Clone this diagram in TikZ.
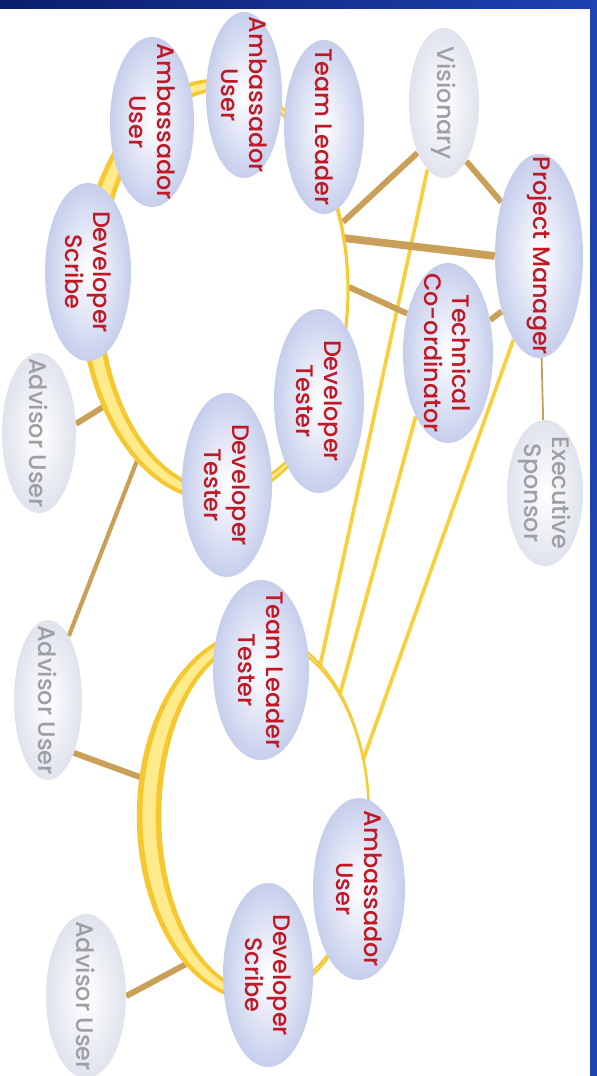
\documentclass[tikz,border=0pt]{standalone}
\usepackage{fontspec}
\newfontfamily\rolefont{Poppins Medium}
\usetikzlibrary{shapes.geometric,backgrounds}
\definecolor{rolered}{RGB}{192,24,36}
\definecolor{auxtext}{RGB}{158,158,163}
\definecolor{roleblue}{RGB}{198,206,236}
\definecolor{auxgrey}{RGB}{224,227,237}
\definecolor{linkbrown}{RGB}{202,160,88}
\definecolor{feedyellow}{RGB}{248,208,60}
\definecolor{ringgold}{RGB}{246,200,48}
\definecolor{ringpale}{RGB}{255,234,140}
\definecolor{navydark}{RGB}{10,30,108}
\definecolor{navylight}{RGB}{30,66,178}
\begin{document}
\begin{tikzpicture}[x=0.025cm,y=-0.025cm,
    declare function={w1(\t)=3+9.5*(1-cos(\t));
      w2(\t)=2.5+22*((1-cos(\t))/2)*sqrt(abs((1-cos(\t))/2));
      p1(\t)=max(0,0.32*(w1(\t)-4));
      p2(\t)=max(0,0.32*(w2(\t)-4));},
    role/.style={ellipse,inner sep=0pt,shading=radial,inner color=white,outer color=roleblue},
    aux/.style={ellipse,inner sep=0pt,shading=radial,inner color=white,outer color=auxgrey},
    rtext/.style={rotate=-90,align=center,text=rolered,font=\rolefont\fontsize{17}{20}\selectfont},
    gtext/.style={rtext,text=auxtext},
    link/.style={linkbrown,line width=4.2pt},
    feed/.style={feedyellow,line width=2.6pt}]
  \useasboundingbox (0,0) rectangle (597,1076);
  \node[aux,minimum width=1.75cm,minimum height=3.75cm,label={[gtext]center:Visionary}] (vis) at (444,103) {};
  \node[role,minimum width=2cm,minimum height=4.35cm,label={[rtext]center:Team Leader}] (tl) at (324,127) {};
  \node[role,minimum width=1.9cm,minimum height=4.15cm,label={[rtext]center:{Ambassador\\User}}] (amb1) at (244,95) {};
  \node[role,minimum width=2.1cm,minimum height=4.25cm,label={[rtext]center:{Ambassador\\User}}] (amb2) at (152,122) {};
  \node[role,minimum width=2.15cm,minimum height=4.45cm,label={[rtext]center:{Developer\\Scribe}}] (dsc1) at (88,272) {};
  \node[role,minimum width=2.2cm,minimum height=5.1cm,label={[rtext]center:Project Manager}] (pm) at (539,256) {};
  \node[role,minimum width=2.25cm,minimum height=4.5cm,label={[rtext]center:{Technical\\Co-ordinator}}] (tc) at (448,353) {};
  \node[role,minimum width=2.25cm,minimum height=4.6cm,label={[rtext]center:{Developer\\Tester}}] (dt1) at (319,401) {};
  \node[role,minimum width=2.25cm,minimum height=4.6cm,label={[rtext]center:{Developer\\Tester}}] (dt2) at (227,485) {};
  \node[aux,minimum width=1.85cm,minimum height=4cm,label={[gtext]center:Advisor User}] (adv1) at (39,433) {};
  \node[aux,minimum width=1.9cm,minimum height=3.65cm,label={[gtext]center:{Executive\\Sponsor}}] (es) at (545,493) {};
  \node[aux,minimum width=1.7cm,minimum height=4cm,label={[gtext]center:Advisor User}] (adv2) at (48,700) {};
  \node[role,minimum width=2.4cm,minimum height=4.5cm,label={[rtext]center:{Team Leader\\Tester}}] (tlt) at (261,670) {};
  \node[role,minimum width=2.3cm,minimum height=4.55cm,label={[rtext]center:{Ambassador\\User}}] (amb3) at (359,889) {};
  \node[role,minimum width=2.25cm,minimum height=4.6cm,label={[rtext]center:{Developer\\Scribe}}] (dsc2) at (268,975) {};
  \node[aux,minimum width=2cm,minimum height=4.1cm,label={[gtext]center:Advisor User}] (adv3) at (86,996) {};
  \coordinate (r1a) at (343,222);
  \coordinate (r1b) at (343,238);
  \coordinate (r1c) at (349,287);
  \coordinate (r1d) at (108,404);
  \coordinate (r1e) at (140,453);
  \coordinate (r2a) at (148,780);
  \coordinate (r2b) at (190,962);
  \coordinate (r2c) at (320,666);
  \coordinate (r2d) at (340,694);
  \coordinate (r2e) at (363,760);
  \begin{scope}[on background layer]
    \fill[white] (0,0) rectangle (597,1076);
    \shade[left color=navydark,right color=navylight] (0,0) rectangle (597,9);
    \fill[navylight] (590,0) rectangle (597,1076);
    \draw[feed] (vis.256) -- (r2c);
    \draw[feed] (tc.243) -- (r2d);
    \draw[feed] (pm.253) -- (r2e);
    \draw[link] (vis.242) -- (r1a);
    \draw[link] (vis.291) -- (pm.125);
    \draw[link,line width=5.5pt] (pm.180) -- (r1b);
    \draw[link] (tc.136) -- (r1c);
    \draw[link] (pm.236) -- (tc.38);
    \draw[link,line width=1.3pt] (pm) -- (es);
    \draw[link] (adv1.14) -- (r1d);
    \draw[link,line width=3pt] (adv2.72) -- (r1e);
    \draw[link] (adv2.296) -- (r2a);
    \draw[link] (adv3.0) -- (r2b);
    \fill[ringgold,even odd rule]
      plot[domain=0:360,samples=145] ({219+(129+w1(\x)/2)*cos(\x)},{290+(205+w1(\x)/2)*sin(\x)}) -- cycle
      plot[domain=0:360,samples=145] ({219+(129-w1(\x)/2)*cos(\x)},{290+(205-w1(\x)/2)*sin(\x)}) -- cycle;
    \fill[ringpale,even odd rule]
      plot[domain=0:360,samples=145] ({219+(129+p1(\x))*cos(\x)},{290+(205+p1(\x))*sin(\x)}) -- cycle
      plot[domain=0:360,samples=145] ({219+(129-p1(\x))*cos(\x)},{290+(205-p1(\x))*sin(\x)}) -- cycle;
    \fill[ringgold,even odd rule]
      plot[domain=0:360,samples=145] ({259+(110+w2(\x)/2)*cos(\x)},{816+(180+w2(\x)/2)*sin(\x)}) -- cycle
      plot[domain=0:360,samples=145] ({259+(110-w2(\x)/2)*cos(\x)},{816+(180-w2(\x)/2)*sin(\x)}) -- cycle;
    \fill[ringpale,even odd rule]
      plot[domain=0:360,samples=145] ({259+(110+p2(\x))*cos(\x)},{816+(180+p2(\x))*sin(\x)}) -- cycle
      plot[domain=0:360,samples=145] ({259+(110-p2(\x))*cos(\x)},{816+(180-p2(\x))*sin(\x)}) -- cycle;
  \end{scope}
\end{tikzpicture}
\end{document}
